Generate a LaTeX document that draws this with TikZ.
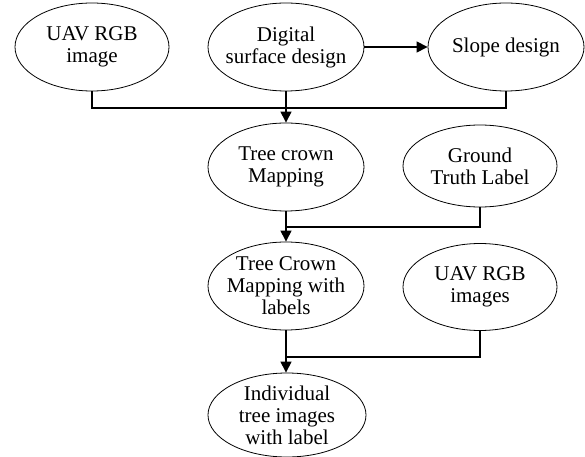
\documentclass[tikz,border=0pt]{standalone}
\usepackage{fontspec}
\setmainfont{Liberation Serif}
\usetikzlibrary{shapes.geometric,arrows.meta}

\tikzset{
	blob/.style={ellipse,draw,line width=0.8bp,inner sep=-20bp,align=center,
		font=\fontsize{21bp}{22bp}\selectfont,minimum width=156bp,minimum height=88bp},
	flow/.style={line width=1.1bp},
	flowarr/.style={flow,-{Triangle[length=11bp,width=11bp]}}
}

\begin{document}
\begin{tikzpicture}[x=1bp,y=-1bp]
			% 画布范围
			\useasboundingbox (0,0) rectangle (585,457);
			% 第一行
			\node[blob,minimum width=154bp] (uav) at (92,47) {UAV RGB\\image};
			\node[blob] (dsd) at (286,47) {Digital\\surface design};
			\node[blob] (slope) at (506,47) {Slope design};
			% 第二行
			\node[blob] (crown) at (286,167) {Tree crown\\Mapping};
			\node[blob,minimum width=154bp,minimum height=82bp] (gt) at (480,166) {Ground\\Truth Label};
			% 第三行
			\node[blob] (crownlab) at (286,286) {Tree Crown\\Mapping with\\labels};
			\node[blob,minimum width=154bp,minimum height=87bp] (uavs) at (480,287) {UAV RGB\\images};
			% 第四行
			\node[blob,minimum width=158bp,minimum height=84bp] (indiv) at (287,415) {Individual\\tree images\\with label};
			
			% 汇合点
			\coordinate (j1) at (286,108);
			\coordinate (j2) at (286,227);
			\coordinate (j3) at (286,357);
			
			% 连线
			\draw[flowarr] (dsd) -- (slope);
			\draw[flow] (uav.south) |- (j1);
			\draw[flow] (slope.south) |- (j1);
			\draw[flowarr] (dsd.south) -- (crown.north);
			\draw[flow] (gt.south) |- (j2);
			\draw[flowarr] (crown.south) -- (crownlab.north);
			\draw[flow] (uavs.south) |- (j3);
			\draw[flowarr] (crownlab.south) -- (indiv.north -| crownlab.south);
		\end{tikzpicture}
\end{document}
